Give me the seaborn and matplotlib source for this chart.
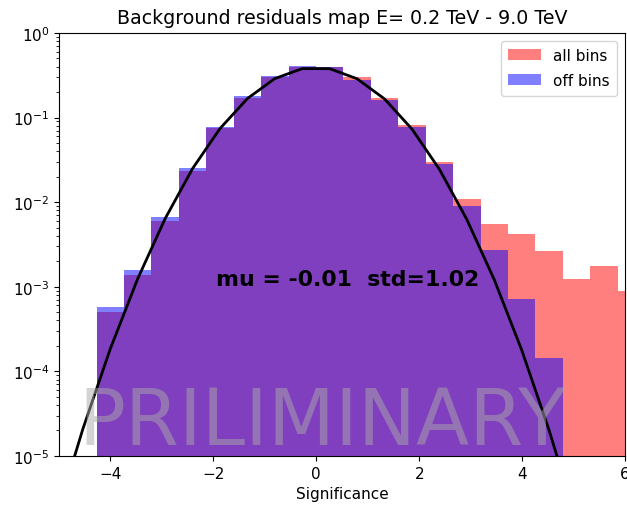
import numpy as np
import pandas as pd
import matplotlib
matplotlib.use("Agg")
import matplotlib.pyplot as plt
from matplotlib.patches import Patch
import seaborn as sns

# ---- data ----
bin_edges = [-4.27, -3.737, -3.204, -2.671, -2.138, -1.605, -1.072, -0.539, -0.006,
             0.527, 1.06, 1.593, 2.126, 2.659, 3.192, 3.725, 4.258, 4.791, 5.324,
             5.857, 6.39]
all_bins = [5.0e-4, 1.38e-3, 5.93e-3, 0.0233, 0.0747, 0.169, 0.305, 0.40, 0.395,
            0.301, 0.169, 0.0817, 0.0301, 0.0110, 5.57e-3, 4.25e-3, 2.64e-3,
            1.25e-3, 1.75e-3, 8.8e-4]
off_bins = [5.73e-4, 1.56e-3, 6.69e-3, 0.0250, 0.0782, 0.1775, 0.306, 0.403, 0.40,
            0.279, 0.162, 0.0767, 0.0279, 8.94e-3, 2.70e-3, 7.19e-4, 1.42e-4,
            0.0, 0.0, 0.0]
fit_mu = -0.01
fit_std = 1.02
title = "Background residuals map E= 0.2 TeV - 9.0 TeV"

edges = np.array(bin_edges)
centers = 0.5 * (edges[:-1] + edges[1:])
width = edges[1] - edges[0]
# fit curve evaluated at bin centres (extended by the same bin grid)
fit_x = np.concatenate([[centers[0] - 2 * width, centers[0] - width], centers])
fit_y = np.exp(-0.5 * ((fit_x - fit_mu) / fit_std) ** 2) / (fit_std * np.sqrt(2 * np.pi))

plt.rcParams['font.family'] = ['DejaVu Sans']

fig = plt.figure(figsize=(6.27, 5.06), dpi=100)
ax = fig.add_axes([0.094, 0.097, 0.903, 0.836])

df_all = pd.DataFrame({"Significance": centers, "w": all_bins})
df_off = pd.DataFrame({"Significance": centers, "w": off_bins})
sns.histplot(data=df_all, x="Significance", weights="w", bins=list(bin_edges), color="red",
             alpha=0.5, linewidth=0, ax=ax)
sns.histplot(data=df_off, x="Significance", weights="w", bins=list(bin_edges), color="blue",
             alpha=0.5, linewidth=0, ax=ax)
sns.lineplot(x=fit_x, y=fit_y, color="black", linewidth=2, ax=ax, sort=False)

ax.set_yscale("log")
ax.set_ylim(1e-5, 1)
ax.set_xlim(-5, 6)
ax.set_ylabel("")
ax.set_xlabel("Significance", fontsize=11)
ax.set_title(title, fontsize=13.7, pad=7)
ax.tick_params(labelsize=11)

ax.text(0.6, 1.25e-3, "mu = -0.01  std=1.02", fontsize=15.8, fontweight="bold",
        color="black", ha="center", va="center")
ax.text(0.465, 0.028, "PRILIMINARY", transform=ax.transAxes, fontsize=56,
        color="darkgray", alpha=0.5, ha="center", va="baseline")

handles = [Patch(facecolor="red", alpha=0.5, label="all bins"),
           Patch(facecolor="blue", alpha=0.5, label="off bins")]
ax.legend(handles=handles, loc="upper right", fontsize=11, labelspacing=0.65,
          borderpad=0.5, handlelength=2.15)

fig.savefig("out.png", dpi=100)
